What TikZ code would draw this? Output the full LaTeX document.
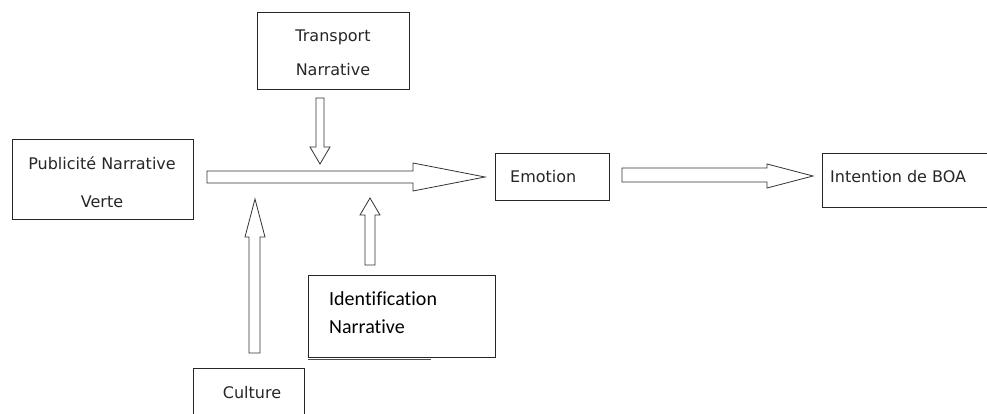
\documentclass[tikz,border=0pt]{standalone}
\usepackage{fontspec}
\setmainfont{DejaVu Sans}
\newfontfamily\calib[Ligatures=NoCommon]{Carlito}
\begin{document}
\begin{tikzpicture}[x=1pt,y=-1pt,
  box/.style={draw=black!85, line width=0.9pt},
  barrow/.style={draw=black!80, line width=0.8pt, fill=white, line join=miter},
  lbl/.style={font=\fontsize{16}{18}\selectfont, text=black!85, inner sep=0pt},
  lblc/.style={font=\calib\fontsize{20}{22}\selectfont, text=black, inner sep=0pt, align=left}]
\useasboundingbox (0,0) rectangle (987,414);
\begin{scope}
\clip (0,0) rectangle (987,414);
% boxes
\draw[box] (12,139) rectangle (193,219);
\draw[box] (257,12) rectangle (409,89);
\draw[box] (495,153) rectangle (609,200);
\draw[box] (995,153) -- (822,153) -- (822,207) -- (995,207);
\draw[box] (193,430) -- (193,368) -- (304,368) -- (304,430);
\draw[box] (308,275) rectangle (495,357);
\draw[black!70, line width=0.8pt] (308,359.5) -- (431,359.5);
% block arrows
\draw[barrow] (207,171) -- (413,171) -- (413,163) -- (485,177) -- (413,191) -- (413,183) -- (207,183) -- cycle;
\draw[barrow] (622,168) -- (767,168) -- (767,164) -- (813,176) -- (767,188) -- (767,182) -- (622,182) -- cycle;
\draw[barrow] (316,98) -- (324,98) -- (324,147) -- (330,147) -- (320,164) -- (310,147) -- (316,147) -- cycle;
\draw[barrow] (249,353) -- (249,237) -- (245,237) -- (255,199) -- (265,237) -- (260,237) -- (260,353) -- cycle;
\draw[barrow] (365,265) -- (365,215) -- (360,215) -- (370,198) -- (380,215) -- (375,215) -- (375,265) -- cycle;
\end{scope}
% labels
\node[lbl] (pub1) at (102,163) {Publicité Narrative};
\node[lbl] (pub2) at (102,202) {Verte};
\node[lbl] (tr1) at (333,37) {Transport};
\node[lbl] (tr2) at (333,70) {Narrative};
\node[lbl, anchor=west] (emo) at (510,177) {Emotion};
\node[lbl, anchor=west] (int) at (830,177) {Intention de BOA};
\node[lbl] (cul) at (252,393) {Culture};
\node[lblc, anchor=west] (id1) at (329,299) {Identification};
\node[lblc, anchor=west] (id2) at (329,327) {Narrative};
\end{tikzpicture}
\end{document}
